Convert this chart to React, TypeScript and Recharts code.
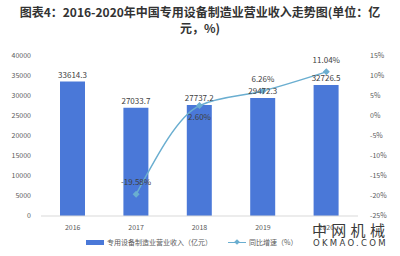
import React from 'react'
import { ComposedChart, Bar, Line, XAxis, YAxis, LabelList } from 'recharts'

const years = ['2016', '2017', '2018', '2019', '2020']
const revenue = [33614.3, 27033.7, 27737.2, 29472.3, 32726.5]
const growth: (number | null)[] = [null, -19.58, 2.6, 6.26, 11.04]
const leftTicks = [0, 5000, 10000, 15000, 20000, 25000, 30000, 35000, 40000]
const rightTicks = [-25, -20, -15, -10, -5, 0, 5, 10, 15]

const BAR_COLOR = '#4a78d8'
const LINE_COLOR = '#6aaed0'
const FONT = '"Noto Sans CJK SC", "Noto Sans", sans-serif'

const chartData = years.map((year, i) => ({
    year,
    revenue: revenue[i],
    growth: growth[i],
}))

const Diamond = (props: any) => {
    const { cx, cy } = props
    if (cx == null || cy == null || props.value == null) return null
    return <path d={`M${cx},${cy - 3.5}L${cx + 3.5},${cy}L${cx},${cy + 3.5}L${cx - 3.5},${cy}Z`} fill={LINE_COLOR} />
}

const GrowthLabel = (props: any) => {
    const { x, y, value, index } = props
    if (value == null) return null
    // 2018 label sits under the point, the rest above
    const dy = index === 2 ? 14 : -9
    return (
        <text x={x} y={y + dy} textAnchor="middle" fontSize={8} fill="#404040" fontFamily={FONT}>
            {value.toFixed(2)}%
        </text>
    )
}

export default function App() {
    return (
        <div style={{ position: 'relative', width: 400, height: 256, background: '#fff', fontFamily: FONT, overflow: 'hidden' }}>
            <style>{'body{margin:0}'}</style>
            <div style={{ position: 'absolute', top: 4, left: 0, width: 400, textAlign: 'center', fontSize: 12, fontWeight: 'bold', color: '#333', lineHeight: '16px', whiteSpace: 'nowrap' }}>
                <div>图表4：2016-2020年中国专用设备制造业营业收入走势图(单位：亿</div>
                <div>元，%)</div>
            </div>
            <ComposedChart
                width={400}
                height={256}
                data={chartData}
                margin={{ top: 56, right: 0, bottom: 20, left: 0 }}
                style={{ position: 'absolute', top: 0, left: 0 }}
            >
                <XAxis
                    dataKey="year"
                    tickLine={false}
                    axisLine={{ stroke: '#d9d9d9' }}
                    tick={{ fontSize: 7, fill: '#595959', fontFamily: FONT }}
                    height={20}
                    tickMargin={3}
                />
                <YAxis
                    yAxisId="left"
                    domain={[0, 40000]}
                    ticks={leftTicks}
                    width={41}
                    axisLine={false}
                    tickLine={false}
                    tick={{ fontSize: 7, fill: '#595959', fontFamily: FONT }}
                    tickMargin={4}
                    interval={0}
                />
                <YAxis
                    yAxisId="right"
                    orientation="right"
                    domain={[-25, 15]}
                    ticks={rightTicks}
                    width={42}
                    axisLine={false}
                    tickLine={false}
                    tick={{ fontSize: 7, fill: '#595959', fontFamily: FONT }}
                    tickFormatter={(v: number) => `${v}%`}
                    tickMargin={6}
                    interval={0}
                />
                <Bar yAxisId="left" dataKey="revenue" fill={BAR_COLOR} barSize={25} isAnimationActive={false}>
                    <LabelList dataKey="revenue" position="top" offset={4} fontSize={8} fill="#404040" fontFamily={FONT} formatter={(v: number) => v.toFixed(1)} />
                </Bar>
                <Line
                    yAxisId="right"
                    dataKey="growth"
                    type="monotone"
                    stroke={LINE_COLOR}
                    strokeWidth={1.5}
                    dot={<Diamond />}
                    activeDot={false}
                    connectNulls={false}
                    isAnimationActive={false}
                >
                    <LabelList dataKey="growth" content={<GrowthLabel />} />
                </Line>
            </ComposedChart>
            <div style={{ position: 'absolute', top: 237, left: 86, display: 'flex', alignItems: 'center', fontSize: 7, color: '#595959' }}>
                <span style={{ display: 'inline-block', width: 18, height: 5, background: BAR_COLOR, marginRight: 3 }} />
                <span>专用设备制造业营业收入（亿元）</span>
                <span style={{ position: 'relative', display: 'inline-block', width: 18, height: 8, marginLeft: 16, marginRight: 3 }}>
                    <span style={{ position: 'absolute', top: 3.5, left: 0, width: 18, height: 1.5, background: LINE_COLOR }} />
                    <span style={{ position: 'absolute', top: 2, left: 6.5, width: 4, height: 4, background: LINE_COLOR, transform: 'rotate(45deg)' }} />
                </span>
                <span>同比增速（%）</span>
            </div>
            <div style={{ position: 'absolute', top: 222, left: 312, fontSize: 15, color: '#3a3a3a', letterSpacing: 4.3, lineHeight: '15px' }}>中网机械</div>
            <div style={{ position: 'absolute', top: 238, left: 313, fontSize: 8.5, color: '#3a3a3a', letterSpacing: 2.3, fontFamily: '"DejaVu Sans", sans-serif', lineHeight: '10px' }}>OKMAO.COM</div>
        </div>
    )
}
